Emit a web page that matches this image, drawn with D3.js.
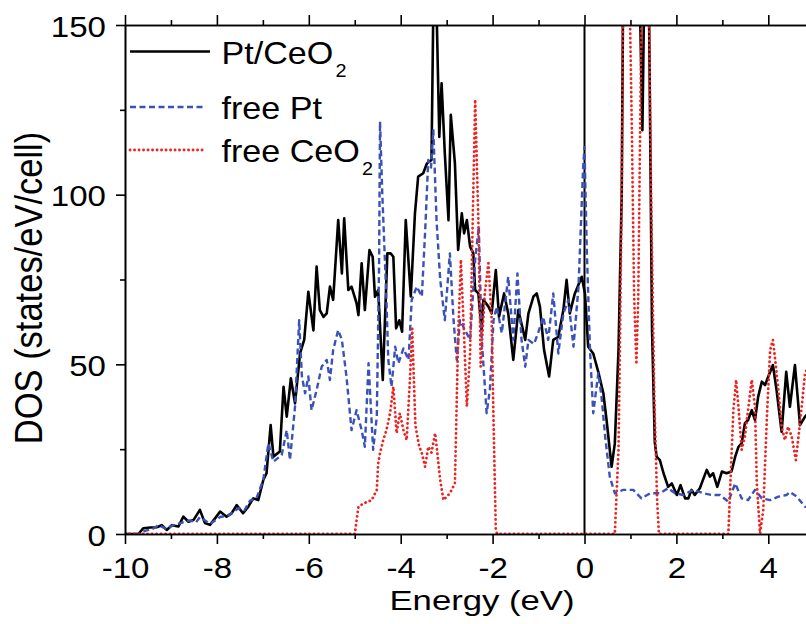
<!DOCTYPE html>
<html>
<head>
<meta charset="utf-8">
<script src="https://cdn.jsdelivr.net/npm/d3@7"></script>
<style>
  html, body { margin: 0; padding: 0; background: #fff; }
  text { font-family: "Liberation Sans", Arial, sans-serif; fill: #000; }
</style>
</head>
<body>
<div id="chart"></div>
<script>
// DOS curves: [energy (eV), DOS (states/eV/cell)]
const ptCeO2 = [
  [-10,0],[-9.71,0],[-9.6,1.7],[-9.45,1.9],[-9.31,2],[-9.2,2.6],[-9.09,1.2],[-8.98,2.6],[-8.84,2.2],
  [-8.73,5.1],[-8.62,3.6],[-8.51,4.1],[-8.37,7.1],[-8.26,3.2],[-8.15,2.7],[-8.04,4.6],[-7.93,6.6],
  [-7.79,5.1],[-7.68,6.1],[-7.57,8.5],[-7.43,6.1],[-7.32,8],[-7.21,10.5],[-7.1,10],[-6.99,15.9],
  [-6.92,17.9],[-6.83,32.1],[-6.77,22.8],[-6.63,24.3],[-6.55,43.4],[-6.48,34.6],[-6.39,45.9],
  [-6.3,38.5],[-6.19,53.3],[-6.1,57.2],[-6.01,71.4],[-5.9,60],[-5.83,78.8],[-5.76,66],[-5.68,64],
  [-5.61,65],[-5.54,72.9],[-5.47,69],[-5.36,92.5],[-5.28,76.8],[-5.23,93],[-5.14,71.9],[-5.07,72.9],
  [-4.96,68],[-4.92,64.5],[-4.85,79.8],[-4.78,66],[-4.68,83.7],[-4.61,81.7],[-4.56,69.9],[-4.49,71.9],
  [-4.39,45.4],[-4.29,82.7],[-4.22,82.7],[-4.16,81.7],[-4.1,60.6],[-4.03,63],[-3.97,59.6],[-3.89,92.5],
  [-3.78,70],[-3.69,94.5],[-3.62,105.3],[-3.51,106.3],[-3.43,109.2],[-3.33,110.2],[-3.29,155],
  [-3.22,155],[-3.16,117],[-3.11,132.8],[-3.04,112.2],[-2.96,92.5],[-2.91,123.5],[-2.82,109.2],
  [-2.75,83.7],[-2.67,94.5],[-2.62,88.6],[-2.56,92.5],[-2.49,84.7],[-2.42,82.7],[-2.38,71.9],
  [-2.31,70.9],[-2.24,60.1],[-2.2,69],[-2.09,67],[-2.02,65],[-1.93,77.8],[-1.86,64],[-1.75,70.9],
  [-1.66,65],[-1.55,51.3],[-1.44,66],[-1.29,57.2],[-1.22,65],[-1.11,70],[-1.04,70.9],[-0.97,67],
  [-0.88,54.2],[-0.77,46.4],[-0.68,57.2],[-0.57,58.1],[-0.46,66],[-0.39,74.9],[-0.32,65],[-0.21,70.9],
  [-0.06,75.8],[0.01,70.9],[0.08,55.2],[0.19,53.2],[0.3,47.8],[0.41,41.5],[0.48,33.6],[0.59,19.8],
  [0.66,26.7],[0.74,54.2],[0.81,100],[0.84,160],[1.2,160],[1.26,119],[1.3,160],[1.4,160],[1.47,60],
  [1.53,27],[1.57,22.8],[1.64,21.8],[1.72,17.9],[1.82,13.9],[1.9,14.9],[2.01,11.5],[2.09,14.4],
  [2.19,10.5],[2.26,10.5],[2.33,13],[2.4,11.5],[2.51,13.5],[2.66,18.9],[2.73,16.9],[2.8,17.9],
  [2.89,13.9],[2.99,18.4],[3.09,17.9],[3.2,18.4],[3.28,22.8],[3.35,25.7],[3.42,26.7],[3.49,32.6],
  [3.56,33.6],[3.64,36.5],[3.71,33.6],[3.78,40.5],[3.86,44.9],[3.93,43.9],[4,46.4],[4.1,49.8],
  [4.18,42.4],[4.29,30.1],[4.39,47.8],[4.47,37.5],[4.58,49.8],[4.69,32.1],[4.8,34.6],[4.9,36]
];

const freePt = [
  [-10,0],[-9.7,0],[-9.55,1],[-9.4,1.5],[-9.27,2.6],[-9.1,1.5],[-8.98,2.4],[-8.8,3.2],[-8.6,4],
  [-8.45,3.5],[-8.37,5],[-8.15,3],[-7.93,5],[-7.75,5.5],[-7.53,7.6],[-7.4,7],[-7.28,9.8],[-7.14,10.5],
  [-6.99,16],[-6.88,26.7],[-6.77,21.3],[-6.59,23.3],[-6.48,30.6],[-6.41,21.8],[-6.3,37.5],[-6.21,63],
  [-6.15,46.4],[-6.08,41.5],[-6.01,46.4],[-5.94,36.5],[-5.83,42.4],[-5.72,49.3],[-5.61,51.3],
  [-5.54,45.4],[-5.47,54.2],[-5.36,60.1],[-5.28,57.2],[-5.18,46.4],[-5.07,30.6],[-4.96,36.5],
  [-4.85,30.6],[-4.78,25.7],[-4.7,50.3],[-4.6,24.8],[-4.52,34.6],[-4.47,80],[-4.45,121.5],[-4.4,100],
  [-4.31,69],[-4.27,51.3],[-4.2,43.4],[-4.12,55.2],[-4.05,50.3],[-3.94,54.7],[-3.83,51.3],[-3.76,69],
  [-3.65,72.9],[-3.54,70],[-3.47,88.6],[-3.4,110.2],[-3.34,108],[-3.29,119],[-3.22,92.5],[-3.14,74.9],
  [-3.04,63],[-2.93,82.7],[-2.85,63],[-2.78,51.3],[-2.71,63],[-2.6,60.1],[-2.49,57.2],[-2.38,80.8],
  [-2.3,90.6],[-2.24,58.1],[-2.13,35.6],[-2.06,42.4],[-1.98,63],[-1.91,67],[-1.8,59.2],[-1.66,75.8],
  [-1.55,57.2],[-1.46,76.8],[-1.37,57.2],[-1.29,49.3],[-1.22,57.2],[-1.1,56],[-1.01,59.2],[-0.9,64],
  [-0.79,57.2],[-0.68,70.9],[-0.57,53.2],[-0.46,65],[-0.35,69],[-0.24,55.2],[-0.13,72.9],[-0.03,108],
  [0,114],[0.05,83.7],[0.12,54.2],[0.19,35.6],[0.3,47.4],[0.37,40.5],[0.45,28.7],[0.55,16.9],[0.66,12],
  [0.84,13],[1.06,13],[1.24,10.5],[1.43,12],[1.64,12],[1.82,13.5],[1.97,12],[2.15,11.5],[2.37,13],
  [2.59,12],[2.77,11.5],[2.95,11.5],[3.13,9.5],[3.28,14.9],[3.42,10.5],[3.56,10],[3.71,13],[3.86,10.5],
  [4.04,10],[4.22,11],[4.4,11.5],[4.47,12.4],[4.62,11],[4.8,8],[4.9,8]
];

const freeCeO2 = [
  [-10,0],[-5,0],[-4.92,8],[-4.81,9],[-4.63,10],[-4.52,13],[-4.49,20.8],[-4.45,23.8],[-4.38,27.7],
  [-4.31,30.6],[-4.23,35.6],[-4.16,43.4],[-4.09,29.7],[-4.02,35.6],[-3.94,30.6],[-3.87,27.7],
  [-3.8,45.4],[-3.75,60.5],[-3.68,32],[-3.6,26],[-3.54,23.8],[-3.47,19.8],[-3.4,25.7],[-3.33,24],
  [-3.25,29.7],[-3.14,15.9],[-3.07,10],[-2.93,12],[-2.82,14.9],[-2.75,58.1],[-2.69,80.8],[-2.62,58.1],
  [-2.56,37.5],[-2.49,53.2],[-2.38,128],[-2.31,92.5],[-2.26,49.3],[-2.17,70.9],[-2.09,79.8],[-2.02,63],
  [-1.98,33.6],[-1.93,1.2],[-1.9,0],[0.66,0],[0.74,24.8],[0.77,54.2],[0.81,100],[0.84,160],[0.98,160],
  [1.03,120],[1.08,70],[1.13,50],[1.17,70],[1.22,130],[1.25,160],[1.4,160],[1.45,100],[1.52,40],
  [1.58,10],[1.62,0],[3.13,0],[3.24,36.5],[3.3,45.4],[3.35,37.5],[3.42,24.8],[3.49,28.7],[3.56,36.5],
  [3.64,45.4],[3.71,37.5],[3.75,14.9],[3.82,0.2],[3.89,7],[3.97,34.6],[4.04,54.2],[4.1,57.2],
  [4.15,51.3],[4.22,42.4],[4.29,31.6],[4.36,27.7],[4.43,31.6],[4.51,28.7],[4.6,21.8],[4.69,32.6],
  [4.8,47.4],[4.9,50]
];

const xMajor = [-10, -8, -6, -4, -2, 0, 2, 4];
const xMinor = [-9, -7, -5, -3, -1, 1, 3, 5];
const yMajor = [0, 50, 100, 150];
const yMinor = [25, 75, 125];
const fermiLevel = 0;

const legendItems = [
  { name: 'Pt/CeO', sub: '2', data: ptCeO2, color: '#000', dash: null, width: 2.6, cap: 'butt' },
  { name: 'free Pt', sub: '', data: freePt, color: '#3a52b8', dash: '6,3.5', width: 2.4, cap: 'butt' },
  { name: 'free CeO', sub: '2', data: freeCeO2, color: '#ec2320', dash: '0.1,4.4', width: 2.8, cap: 'round' }
];

const width = 806, height = 624;
const margin = { top: 25, left: 125 };
const pxPerEV = 45.95;

const x = d3.scaleLinear().domain([-10, 5]).range([margin.left, margin.left + 15 * pxPerEV]);
const y = d3.scaleLinear().domain([0, 150]).range([534, margin.top]);

const svg = d3.select('#chart').append('svg')
  .attr('width', width)
  .attr('height', height);

svg.append('clipPath').attr('id', 'plot-clip')
  .append('rect')
  .attr('x', x(-10))
  .attr('y', y(150))
  .attr('width', x(5) - x(-10))
  .attr('height', y(0) - y(150));

// curves
const line = d3.line().x(d => x(d[0])).y(d => y(d[1]));
const curves = svg.append('g').attr('clip-path', 'url(#plot-clip)');

curves.append('line')
  .attr('x1', x(fermiLevel)).attr('x2', x(fermiLevel))
  .attr('y1', y(0)).attr('y2', y(150))
  .attr('stroke', '#000')
  .attr('stroke-width', 2);

legendItems.forEach(s => {
  curves.append('path')
    .datum(s.data)
    .attr('d', line)
    .attr('fill', 'none')
    .attr('stroke', s.color)
    .attr('stroke-width', s.width)
    .attr('stroke-linejoin', 'round')
    .attr('stroke-linecap', s.cap)
    .attr('stroke-dasharray', s.dash);
});

// axes
const stretch = 'scale(1.12,1)';
function styleAxis(g) {
  g.selectAll('path, line').attr('stroke', '#000').attr('stroke-width', 1.6);
  g.selectAll('text').style('font-size', '29.5px').attr('transform', stretch);
}

svg.append('g')
  .attr('transform', `translate(0,${y(0)})`)
  .call(d3.axisBottom(x).tickValues(xMinor).tickSize(5).tickSizeOuter(0).tickFormat(''))
  .call(styleAxis);
svg.append('g')
  .attr('transform', `translate(0,${y(0)})`)
  .call(d3.axisBottom(x).tickValues(xMajor).tickSize(10).tickSizeOuter(0).tickFormat(d => String(d)))
  .call(styleAxis)
  .call(g => g.selectAll('text').attr('y', 44).attr('dy', null));

svg.append('g')
  .attr('transform', `translate(0,${y(150)})`)
  .call(d3.axisTop(x).tickValues(xMinor).tickSize(5).tickSizeOuter(0).tickFormat(''))
  .call(styleAxis);
svg.append('g')
  .attr('transform', `translate(0,${y(150)})`)
  .call(d3.axisTop(x).tickValues(xMajor).tickSize(10).tickSizeOuter(0).tickFormat(''))
  .call(styleAxis);

svg.append('g')
  .attr('transform', `translate(${x(-10)},0)`)
  .call(d3.axisLeft(y).tickValues(yMinor).tickSize(5).tickSizeOuter(0).tickFormat(''))
  .call(styleAxis);
svg.append('g')
  .attr('transform', `translate(${x(-10)},0)`)
  .call(d3.axisLeft(y).tickValues(yMajor).tickSize(9).tickSizeOuter(0).tickFormat(d => String(d)))
  .call(styleAxis)
  .call(g => g.selectAll('text').attr('x', -17).attr('y', 11).attr('dy', null));

// axis titles
svg.append('text')
  .attr('transform', 'translate(482,610) scale(1.24,1)')
  .attr('text-anchor', 'middle')
  .style('font-size', '28px')
  .text('Energy (eV)');

svg.append('text')
  .attr('transform', 'translate(42,288) scale(1.1,1) rotate(-90)')
  .attr('text-anchor', 'middle')
  .style('font-size', '34.5px')
  .text('DOS (states/eV/cell)');

// legend
const legendY = [51.5, 107, 150];
const legend = svg.append('g');
legendItems.forEach((s, i) => {
  legend.append('line')
    .attr('x1', 130).attr('x2', i === 0 ? 210 : 206)
    .attr('y1', legendY[i]).attr('y2', legendY[i])
    .attr('stroke', s.color)
    .attr('stroke-width', s.width)
    .attr('stroke-linecap', s.cap)
    .attr('stroke-dasharray', s.dash);
  const t = legend.append('text')
    .attr('transform', `translate(221.5,${legendY[i] + 12}) scale(1.1,1)`)
    .style('font-size', '31px')
    .text(s.name);
  if (s.sub) {
    t.append('tspan')
      .attr('dx', 2)
      .attr('dy', 13)
      .style('font-size', '18px')
      .text(s.sub);
  }
});
</script>
</body>
</html>
